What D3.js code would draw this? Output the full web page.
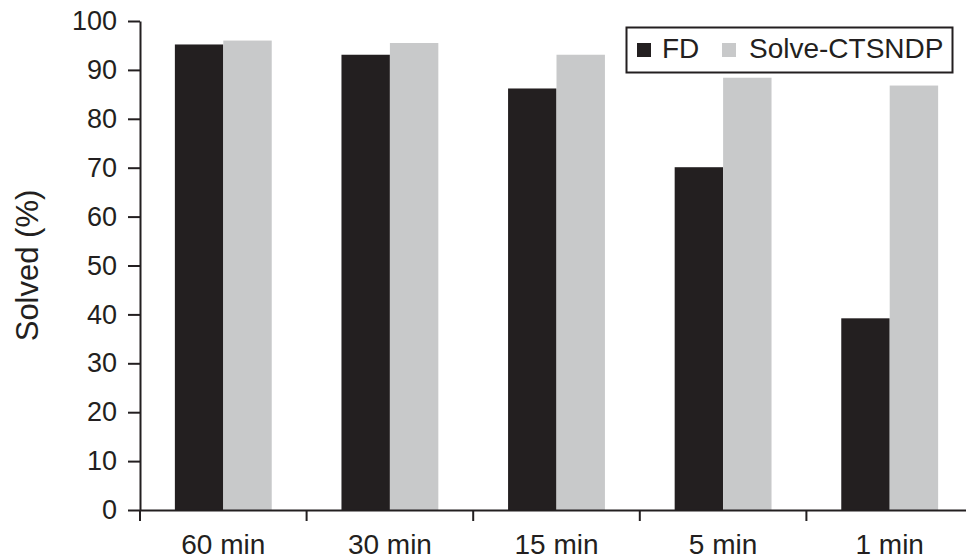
<!DOCTYPE html>
<html><head><meta charset="utf-8">
<script src="https://cdn.jsdelivr.net/npm/d3@7"></script>
<style>
html,body{margin:0;padding:0;background:#fff;}
svg{display:block;}
text{font-family:"Liberation Sans",Arial,sans-serif;fill:#231f20;}
</style></head>
<body>
<svg id="c" width="966" height="560"></svg>
<script>
const categories = ["60 min","30 min","15 min","5 min","1 min"];
const series = ["FD","Solve-CTSNDP"];
const fdValues = [95.2, 93.1, 86.2, 70.1, 39.2];
const solveValues = [96.0, 95.5, 93.1, 88.4, 86.8];
const yTicks = [0,10,20,30,40,50,60,70,80,90,100];
const colors = ["#231f20", "#c8c9ca"];

const svg = d3.select("#c");
const mLeft = 140, mBottom = 510, mTop = 21, mRight = 973;
const ink = "#231f20";

const x0 = d3.scaleBand().domain(categories).range([mLeft, mRight]).paddingInner(0).paddingOuter(0);
const x1 = d3.scaleBand().domain(series).range([0, x0.bandwidth()]).paddingInner(0).paddingOuter(0.72);
const y = d3.scaleLinear().domain([0,100]).range([mBottom, mTop]);

const data = categories.map((c,i)=>({cat:c, vals:[fdValues[i], solveValues[i]]}));

const g = svg.append("g");
g.selectAll("g.cat").data(data).join("g").attr("class","cat")
  .attr("transform", d=>`translate(${x0(d.cat)},0)`)
  .selectAll("rect").data(d=>d.vals.map((v,j)=>({s:series[j], v, j})))
  .join("rect")
  .attr("x", d=>x1(d.s)).attr("width", x1.bandwidth())
  .attr("y", d=>y(d.v)).attr("height", d=>mBottom - y(d.v))
  .attr("fill", d=>colors[d.j]);

// Y axis
const yAxis = svg.append("g").attr("transform",`translate(${mLeft},0)`)
  .call(d3.axisLeft(y).tickValues(yTicks).tickSize(12).tickPadding(11).tickSizeOuter(0));
yAxis.selectAll("path,line").attr("stroke", ink).attr("stroke-width", 2);
yAxis.selectAll("text").style("font-size","27px").attr("fill", ink);

// X axis (labels at band centres)
const xAxis = svg.append("g").attr("transform",`translate(0,${mBottom})`)
  .call(d3.axisBottom(x0).tickSize(0).tickPadding(24).tickSizeOuter(0));
xAxis.select("path").attr("stroke", ink).attr("stroke-width", 2);
xAxis.selectAll("text").style("font-size","28px").attr("fill", ink);
// boundary ticks
xAxis.selectAll("line.bnd").data(categories).join("line").attr("class","bnd")
  .attr("x1", d=>x0(d)).attr("x2", d=>x0(d)).attr("y1",0).attr("y2",11)
  .attr("stroke", ink).attr("stroke-width", 2);

// Y label
svg.append("text").attr("transform",`translate(38,265.5) rotate(-90)`)
  .attr("text-anchor","middle").style("font-size","31px").text("Solved (%)");

// Legend
const lg = svg.append("g");
lg.append("rect").attr("x",626.5).attr("y",27.5).attr("width",326).attr("height",45)
  .attr("fill","#fff").attr("stroke", ink).attr("stroke-width",2);
const items = [{s:series[0], x:637, tx:662},{s:series[1], x:722, tx:749}];
items.forEach((it,i)=>{
  lg.append("rect").attr("x",it.x).attr("y",43).attr("width",14).attr("height",14).attr("fill",colors[i]);
  lg.append("text").attr("x",it.tx).attr("y",57.5).style("font-size","28px").text(it.s);
});
</script>
</body></html>
